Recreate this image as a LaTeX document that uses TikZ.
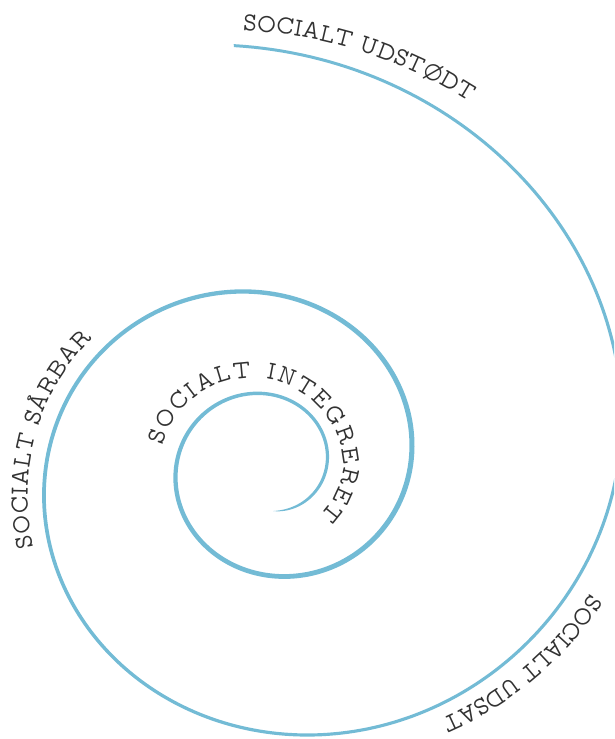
\documentclass[tikz,border=0pt]{standalone}
\usepackage{fontspec}
\usetikzlibrary{decorations.text}
\newfontfamily\lblfam{lmmonoprop10-regular}[Extension=.otf, FakeStretch=0.9]
\definecolor{spiralblue}{RGB}{115,187,213}
\definecolor{txtgray}{RGB}{50,50,50}
\newcommand\lblfont{\lblfam\fontsize{26}{31}\selectfont}
\begin{document}
\begin{tikzpicture}[x=1pt,y=1pt,
  declare function={
    spr(\t)=46.3*exp(0.002461*(\t+803.8));
    gq(\t)=(\t+383.8)/200;
    sw(\t)=(3+2*exp(-gq(\t)*gq(\t)))*(1-exp(-min(\t+803.8,120)/20));
    xs(\t)=1.035+0.015*exp(-((\t-5)/50)*((\t-5)/50));
    px(\r,\t)=268+xs(\t)*\r*cos(\t);
    py(\r,\t)=274+\r*sin(\t);
    ir(\a)=92.5+0.3*min(0,\a);
  },
  lbl/.style={decorate, decoration={text along path, text color=txtgray}}
]
\useasboundingbox (0,0) rectangle (614,739);
\clip (0,0) rectangle (614,739);

% spiral band, outer edge inward then inner edge outward
\fill[spiralblue]
  plot[domain=0:898.3, samples=700, variable=\s]
    ({px(spr(94.5-\s)+sw(94.5-\s)/2,94.5-\s)},{py(spr(94.5-\s)+sw(94.5-\s)/2,94.5-\s)})
  -- plot[domain=-803.8:94.5, samples=700, variable=\t]
    ({px(spr(\t)-sw(\t)/2,\t)},{py(spr(\t)-sw(\t)/2,\t)})
  -- cycle;

% top label
\path[lbl, decoration={text={|\lblfont\kern0pt|SOCIALT UDSTØDT}}]
  plot[domain=0:45, samples=80, variable=\s]
    ({px(spr(93.2-\s)+16+7*\s/31.7,93.2-\s)},{py(spr(93.2-\s)+16+7*\s/31.7,93.2-\s)});

% left label
\path[lbl, decoration={text={|\lblfont\kern0.6pt|SOCIALT SÅRBAR}}]
  plot[domain=0:75, samples=80, variable=\s]
    ({px(spr(-159.9-\s)+16,-159.9-\s)},{py(spr(-159.9-\s)+16,-159.9-\s)});

% lower right label
\path[lbl, decoration={text={|\lblfont\kern-0.4pt|SOCIALT UDSAT}}]
  plot[domain=0:48, samples=80, variable=\s]
    ({px(spr(-22.7-\s)+18-4*\s/32.7,-22.7-\s)},{py(spr(-22.7-\s)+18-4*\s/32.7,-22.7-\s)});

% inner label
\path[lbl, decoration={text={|\lblfont\kern1.8pt|SOCIALT}}]
  plot[domain=0:110, samples=60, variable=\s]
    ({251.4+92.5*cos(165.5-\s)},{268.8+92.5*sin(165.5-\s)});
\path[lbl, decoration={text={|\lblfont\kern1.9pt|INTEGRERET}}]
  plot[domain=0:150, samples=80, variable=\s]
    ({251.4+ir(82-\s)*cos(82-\s)},{268.8+ir(82-\s)*sin(82-\s)});
\end{tikzpicture}
\end{document}
